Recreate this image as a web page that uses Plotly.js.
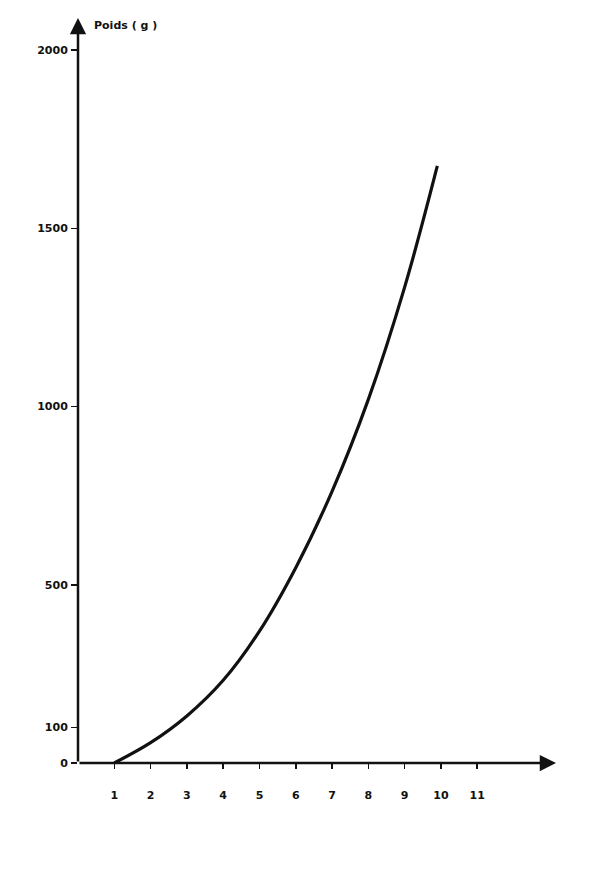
<!DOCTYPE html>
<html><head><meta charset="utf-8">
<script src="https://cdn.plot.ly/plotly-3.0.1.min.js"></script>
<style>body{margin:0;background:#fff}#chart{width:600px;height:885px}</style>
</head><body><div id="chart"></div>
<script>
// Data
const ages = [1, 2, 3, 4, 5, 6, 7, 8, 9, 9.9];
const poids = [0, 57, 132, 232, 370, 548, 762, 1020, 1335, 1675];
const xTicks = [1, 2, 3, 4, 5, 6, 7, 8, 9, 10, 11];
const xTickText = ['1', '2', '3', '4', '5', '6', '7', '8', '9', '10', '11'];
const yTicks = [0, 100, 500, 1000, 1500, 2000];
const yTickText = ['0', '100', '500', '1000', '1500', '2000'];
const yTitle = 'Poids ( g )';
const xMax = 13.17, yMax = 2090;

const ink = '#111';
const tickFont = {family: 'DejaVu Sans', size: 11, color: ink, weight: 'bold'};

const trace = {
  x: ages, y: poids, type: 'scatter', mode: 'lines',
  line: {color: ink, width: 3.2, shape: 'spline', smoothing: 1},
  hoverinfo: 'skip', cliponaxis: false
};

const layout = {
  width: 600, height: 885,
  margin: {l: 78, r: 44, t: 18, b: 122},
  paper_bgcolor: '#fff', plot_bgcolor: '#fff',
  showlegend: false,
  xaxis: {
    range: [0, xMax], showgrid: false, zeroline: false, showline: false,
    tickvals: xTicks, ticktext: xTickText, ticks: 'outside', ticklen: 5,
    tickwidth: 1.5, tickcolor: ink, ticklabelstandoff: 17, tickfont: tickFont
  },
  yaxis: {
    range: [0, yMax], showgrid: false, zeroline: false, showline: false,
    tickvals: yTicks, ticktext: yTickText, ticks: 'outside', ticklen: 6,
    tickwidth: 1.5, tickcolor: ink, ticklabelstandoff: 1, tickfont: tickFont
  },
  annotations: [
    {x: xMax, y: 0, ax: 0, ay: 0, xref: 'x', yref: 'y', axref: 'x', ayref: 'y',
     text: '', showarrow: true, arrowhead: 2, arrowsize: 1.3, arrowwidth: 2.5, arrowcolor: ink},
    {x: 0, y: yMax, ax: 0, ay: 0, xref: 'x', yref: 'y', axref: 'x', ayref: 'y',
     text: '', showarrow: true, arrowhead: 2, arrowsize: 1.3, arrowwidth: 2.5, arrowcolor: ink},
    {x: 0.029, y: 0.99, xref: 'paper', yref: 'paper', xanchor: 'left', yanchor: 'middle',
     text: yTitle, showarrow: false,
     font: {family: 'DejaVu Sans', size: 11, color: ink, weight: 'bold'}}
  ]
};

Plotly.newPlot('chart', [trace], layout, {staticPlot: true, displayModeBar: false});
</script>
</body></html>
